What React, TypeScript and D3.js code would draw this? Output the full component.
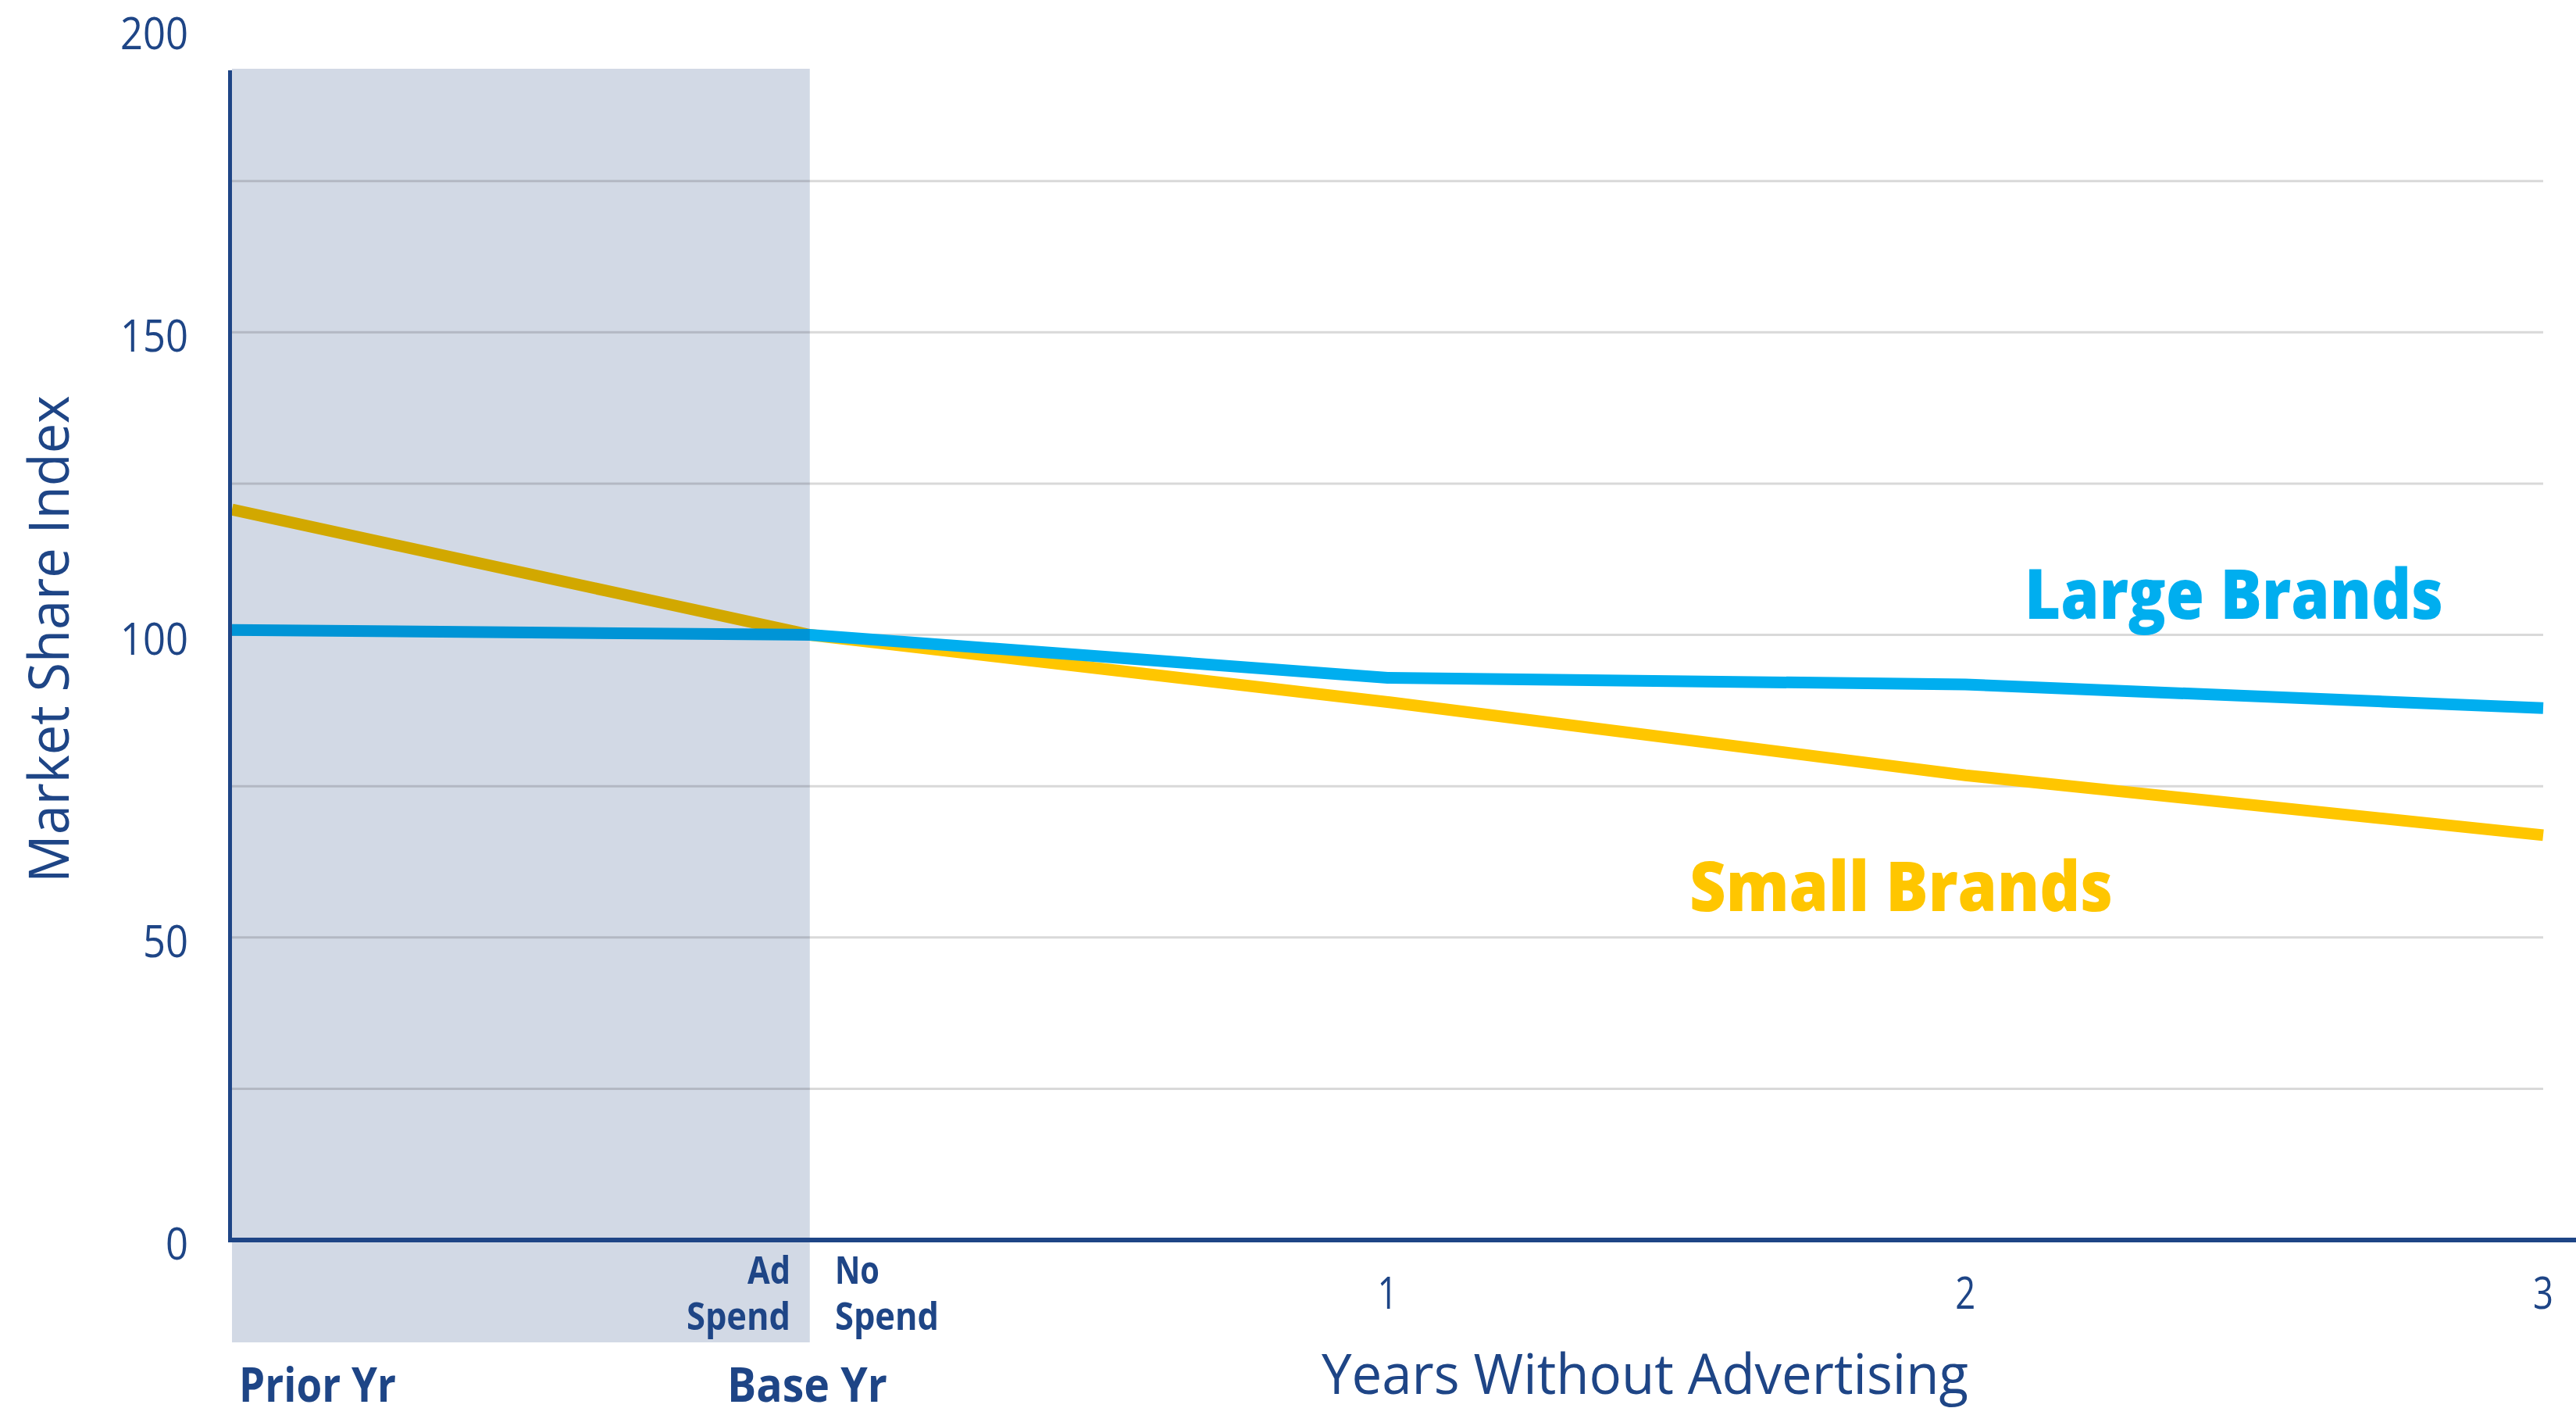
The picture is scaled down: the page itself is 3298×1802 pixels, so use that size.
import React from "react";
import * as d3 from "d3";

const xValues = [-1, 0, 1, 2, 3];
const largeBrands = [100.8, 100, 92.9, 91.8, 87.9];
const smallBrands = [120.7, 100, 88.9, 76.8, 66.9];
const gridValues = [25, 50, 75, 100, 125, 150, 175];
const yTickValues = [0, 50, 100, 150, 200];
const xTickValues = [1, 2, 3];

const W = 3298;
const H = 1802;
const NAVY = "#1E4586";
const BLUE = "#00AEEF";
const YELLOW = "#FFC600";
const FONT = "'Open Sans', 'Noto Sans', sans-serif";

export default function App() {
  const x = d3.scaleLinear().domain([-1, 3]).range([297, 3256]);
  const y = d3.scaleLinear().domain([0, 200]).range([1587, 38]);
  const plotTop = 88;
  const line = d3
    .line<number>()
    .x((_, i) => x(xValues[i]))
    .y((d) => y(d));

  return (
    <svg
      width={W}
      height={H}
      style={{ position: "fixed", left: 0, top: 0, background: "#fff" }}
    >
      <rect x={0} y={0} width={W} height={H} fill="#fff" />
      {gridValues.map((g) => (
        <line
          key={g}
          x1={x(-1)}
          x2={x(3)}
          y1={y(g)}
          y2={y(g)}
          stroke="#D9D9D9"
          strokeWidth={3}
        />
      ))}
      <path d={line(smallBrands) || ""} fill="none" stroke={YELLOW} strokeWidth={15} />
      <path d={line(largeBrands) || ""} fill="none" stroke={BLUE} strokeWidth={15} />
      <rect
        x={x(-1)}
        y={plotTop}
        width={x(0) - x(-1)}
        height={1718 - plotTop}
        fill="#D2D9E5"
        style={{ mixBlendMode: "multiply" }}
      />
      <line x1={x(-1)} x2={W} y1={y(0)} y2={y(0)} stroke={NAVY} strokeWidth={6} />
      <line x1={294.5} x2={294.5} y1={plotTop + 2} y2={y(0) + 3} stroke={NAVY} strokeWidth={5} />

      {yTickValues.map((t) => (
        <text
          key={t}
          x={241}
          y={y(t) + 3}
          textAnchor="end"
          dominantBaseline="central"
          fontFamily={FONT}
          fontSize={56}
          fill={NAVY}
          textLength={String(t).length * 29}
          lengthAdjust="spacingAndGlyphs"
        >
          {t}
        </text>
      ))}
      {xTickValues.map((t) => (
        <text
          key={t}
          x={x(t)}
          y={1675}
          textAnchor="middle"
          fontFamily={FONT}
          fontSize={56}
          fill={NAVY}
          textLength={26}
          lengthAdjust="spacingAndGlyphs"
        >
          {t}
        </text>
      ))}

      <text
        transform="translate(88,818) rotate(-90)"
        textAnchor="middle"
        fontFamily={FONT}
        fontWeight={500}
        fontSize={72}
        fill={NAVY}
        textLength={624}
        lengthAdjust="spacingAndGlyphs"
      >
        Market Share Index
      </text>

      <text x={1012} y={1643} textAnchor="end" fontFamily={FONT} fontWeight={700} fontSize={48} fill={NAVY} textLength={55} lengthAdjust="spacingAndGlyphs">Ad</text>
      <text x={1012} y={1702} textAnchor="end" fontFamily={FONT} fontWeight={700} fontSize={48} fill={NAVY} textLength={133} lengthAdjust="spacingAndGlyphs">Spend</text>
      <text x={1069} y={1643} fontFamily={FONT} fontWeight={700} fontSize={48} fill={NAVY} textLength={57} lengthAdjust="spacingAndGlyphs">No</text>
      <text x={1069} y={1702} fontFamily={FONT} fontWeight={700} fontSize={48} fill={NAVY} textLength={133} lengthAdjust="spacingAndGlyphs">Spend</text>

      <text x={306} y={1794} fontFamily={FONT} fontWeight={700} fontSize={60} fill={NAVY} textLength={201} lengthAdjust="spacingAndGlyphs">Prior Yr</text>
      <text x={931} y={1794} fontFamily={FONT} fontWeight={700} fontSize={60} fill={NAVY} textLength={205} lengthAdjust="spacingAndGlyphs">Base Yr</text>

      <text x={1692} y={1784} fontFamily={FONT} fontWeight={500} fontSize={71} fill={NAVY} textLength={828} lengthAdjust="spacingAndGlyphs">Years Without Advertising</text>

      <text x={2592} y={792} fontFamily={FONT} fontWeight={800} fontSize={88} fill={BLUE} textLength={536} lengthAdjust="spacingAndGlyphs">Large Brands</text>
      <text x={2163} y={1166} fontFamily={FONT} fontWeight={800} fontSize={88} fill={YELLOW} textLength={542} lengthAdjust="spacingAndGlyphs">Small Brands</text>
    </svg>
  );
}
